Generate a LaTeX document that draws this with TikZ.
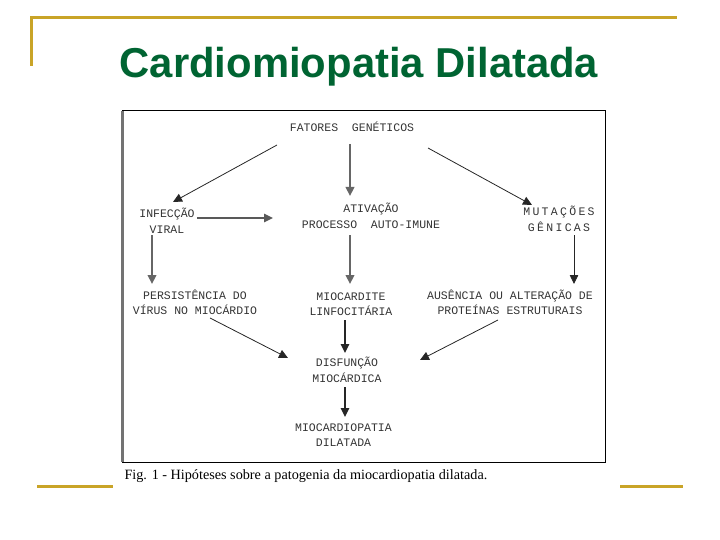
\documentclass[tikz,border=0pt]{standalone}
\usepackage{fontspec}
\usepackage{tikz}
\setmainfont{Liberation Serif}
\newfontfamily\titlefont{Liberation Sans}
\newfontfamily\diagfont{Liberation Mono}
\newfontfamily\widefont{Liberation Mono}[LetterSpace=20]
\usetikzlibrary{arrows.meta}
\usetikzlibrary{positioning}
\definecolor{framegold}{RGB}{201,164,40}
\definecolor{titlegreen}{RGB}{0,100,50}

\begin{document}
\begin{tikzpicture}[x=1pt, y=-1pt,
    lbl/.style={align=center, inner sep=0pt, text=black!80,
        font=\diagfont\fontsize{11.5}{15.5}\selectfont},
    widelbl/.style={lbl, font=\widefont\fontsize{11.5}{15.5}\selectfont},
    arr/.style={-{Triangle[length=9pt, width=8.5pt]}, line width=0.8pt, black!85},
    arrmid/.style={arr, line width=1.4pt},
    arrthick/.style={arr, line width=2.4pt, black!60},
    goldline/.style={framegold, line width=3pt}]
    \useasboundingbox (0, 0) rectangle (720, 540);

    \draw [goldline] (31, 66) -- (31, 18) -- (677, 18);
    \draw [goldline] (37, 486) -- (113, 486);
    \draw [goldline] (620, 486) -- (683, 486);

    \node (title) [anchor=base, text=titlegreen, font=\titlefont\bfseries\fontsize{41.8}{46}\selectfont] at (359, 78) {Cardiomiopatia Dilatada};

    \draw [line width=1pt] (122, 111) rectangle (605, 462);
    \draw [line width=3pt, black!55] (122.5, 111) -- (122.5, 462);

    \node (caption) [anchor=base west, font=\fontsize{14.2}{16}\selectfont] at (121, 479) {Fig. 1 - Hipóteses sobre a patogenia da miocardiopatia dilatada.};

    \node (fatores) [lbl] at (352, 127) {FATORES~~GENÉTICOS};
    \node (infeccao) [lbl] at (167, 220.5) {INFECÇÃO\\VIRAL};
    \node (ativacao) [lbl] at (371, 216) {ATIVAÇÃO\\PROCESSO~~AUTO-IMUNE};
    \node (mutacoes) [widelbl] at (559, 219) {MUTAÇÕES\\GÊNICAS};
    \node (persist) [lbl] at (195, 302.5) {PERSISTÊNCIA DO\\VÍRUS NO MIOCÁRDIO};
    \node (miocardite) [lbl] at (351, 304) {MIOCARDITE\\LINFOCITÁRIA};
    \node (ausencia) [lbl] at (510, 302.5) {AUSÊNCIA OU ALTERAÇÃO DE\\PROTEÍNAS ESTRUTURAIS};
    \node (disfuncao) [lbl] at (347, 370) {DISFUNÇÃO\\MIOCÁRDICA};
    \node (miocardiopatia) [lbl] at (343.5, 435) {MIOCARDIOPATIA\\DILATADA};

    \draw [arr] ([shift={(-75, 18)}]fatores.center) -- ([shift={(6, -18.5)}]infeccao.center);
    \draw [arrthick] ([shift={(-2, 17)}]fatores.center) -- ([shift={(-21, -20)}]ativacao.center);
    \draw [arr] ([shift={(76, 21)}]fatores.center) -- ([shift={(-27, -14)}]mutacoes.center);

    \draw [arrmid, black!65] ([shift={(30, -2.5)}]infeccao.center) -- ([shift={(-98, 2)}]ativacao.center);
    \draw [arrthick] ([shift={(-15, 14.5)}]infeccao.center) -- ([shift={(-43, -18.5)}]persist.center);
    \draw [arrthick] ([shift={(-21, 19)}]ativacao.center) -- ([shift={(-1, -20)}]miocardite.center);
    \draw [arr] ([shift={(15, 16)}]mutacoes.center) -- ([shift={(64, -18.5)}]ausencia.center);

    \draw [arr] ([shift={(15, 15.5)}]persist.center) -- ([shift={(-59, -12)}]disfuncao.center);
    \draw [arrmid] ([shift={(-6, 16)}]miocardite.center) -- ([shift={(-2, -17)}]disfuncao.center);
    \draw [arr] ([shift={(-12, 17.5)}]ausencia.center) -- ([shift={(73, -10)}]disfuncao.center);
    \draw [arrmid] ([shift={(-2, 17)}]disfuncao.center) -- ([shift={(1.5, -18)}]miocardiopatia.center);
\end{tikzpicture}
\end{document}
